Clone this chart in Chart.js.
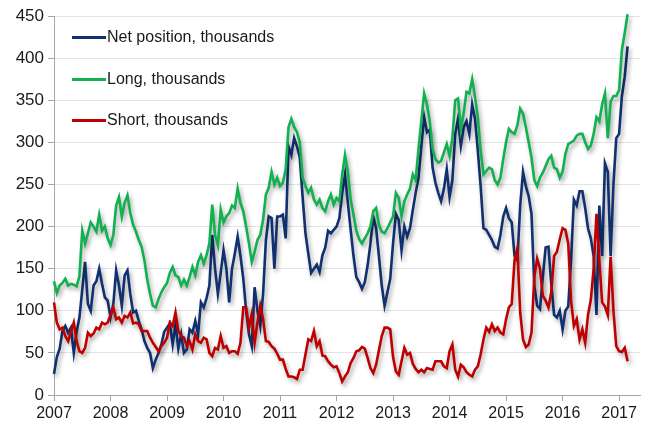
<!DOCTYPE html>
<html>
<head>
<meta charset="utf-8">
<script src="https://cdn.jsdelivr.net/npm/chart.js@4/dist/chart.umd.min.js"></script>
<style>
  html, body { margin: 0; padding: 0; background: #fff; }
  #wrap { position: relative; width: 648px; height: 429px; }
  .legend { position: absolute; left: 72px; top: 0; font: 16px "Liberation Sans", Arial, sans-serif; color: #1a1a1a; }
  .legend .item { position: absolute; left: 0; height: 20px; line-height: 20px; white-space: nowrap; }
  .legend .swatch { position: absolute; left: 0; top: 9px; width: 34px; height: 3px; }
  .legend .label { position: absolute; left: 35px; top: 0; }
</style>
</head>
<body>
<div id="wrap">
  <canvas id="cot-chart" width="648" height="429"></canvas>
  <div class="legend" id="legend"></div>
</div>
<script>
// weekly-ish readings, 20 per year starting Jan 2007
const startYear = 2007;
const step = 0.05;
const yearTicks = [2007, 2008, 2009, 2010, 2011, 2012, 2013, 2014, 2015, 2016, 2017];
const valueTicks = [0, 50, 100, 150, 200, 250, 300, 350, 400, 450];

const seriesNames = ['Net position, thousands', 'Long, thousands', 'Short, thousands'];

const net = [
  25,45,55,76,82,74,80,50,75,92,125,158,108,100,130,135,150,132,116,112,       // 2007
  92,108,148,130,106,142,148,120,98,100,88,78,64,56,50,32,42,50,60,75,          // 2008
  80,85,60,84,55,72,50,54,78,74,88,72,110,104,115,130,190,150,120,145,          // 2009
  172,150,110,150,168,188,165,138,100,72,58,128,100,82,120,184,212,210,150,212, // 2010
  212,214,186,295,285,305,295,282,235,192,168,145,150,155,146,166,175,195,192,196, // 2011
  200,210,240,262,228,196,165,140,134,126,134,154,180,212,198,165,130,106,122,138, // 2012
  180,215,208,172,200,188,198,220,240,258,295,330,312,315,270,252,240,230,245,268, // 2013
  235,255,310,328,296,318,325,310,345,328,290,248,198,196,190,184,176,174,190,212, // 2014
  222,210,205,165,160,225,265,248,236,215,130,106,102,140,175,176,132,95,92,100,   // 2015
  78,100,105,160,232,225,242,242,222,198,186,165,95,225,165,275,265,165,250,305,   // 2016
  310,355,378,414                                                                  // 2017
];

const longPos = [
  135,121,130,133,138,130,132,131,129,141,195,180,192,205,200,194,214,195,200,186,
  178,190,225,235,212,228,237,216,202,194,184,176,160,137,120,106,104,114,122,128,
  133,145,152,142,140,130,137,130,140,152,142,158,166,156,166,180,226,190,178,220,
  205,212,216,225,222,245,228,218,200,180,158,170,184,190,208,238,246,265,250,258,
  248,252,268,318,328,318,312,300,258,248,240,246,232,226,232,222,218,230,238,226,
  234,230,262,285,265,232,214,195,185,180,186,192,200,218,222,202,194,192,198,205,
  212,240,234,212,230,238,245,262,255,292,325,358,345,325,292,280,276,278,288,298,
  284,305,350,352,315,335,360,358,375,354,330,290,262,266,270,268,255,250,258,280,
  300,316,312,310,320,340,334,318,300,282,255,248,258,264,272,280,284,270,268,258,
  265,286,298,300,302,308,310,310,300,292,296,310,330,325,345,358,305,348,355,355,
  362,410,430,452
];

const shortPos = [
  110,86,78,80,70,64,75,86,64,52,50,56,74,70,73,80,78,86,84,86,
  95,104,90,92,86,94,92,98,85,86,84,76,76,76,68,62,57,52,58,62,
  68,86,82,98,76,70,68,58,64,54,72,64,62,68,66,50,46,56,54,70,
  56,58,50,52,52,49,62,104,104,80,96,62,86,106,90,64,63,58,55,49,
  42,42,31,22,22,21,19,30,30,48,66,64,76,58,64,47,46,40,36,33,
  34,26,16,22,27,38,44,52,53,57,55,44,32,26,36,53,70,80,80,78,
  45,28,24,40,56,48,50,37,31,27,30,27,32,31,30,40,40,40,34,32,
  52,60,30,22,36,33,27,24,22,30,34,48,66,80,75,84,76,80,74,72,
  90,104,108,160,174,98,66,57,60,74,140,162,150,118,112,104,122,165,170,185,
  198,196,180,112,82,90,66,78,62,95,113,150,215,160,110,105,95,164,100,58,
  52,51,56,40
];

const colors = ['#10306f', '#12b04f', '#c00000'];
const fontFamily = '"Liberation Sans", Arial, sans-serif';

function toPoints(vals) {
  return vals.map((v, i) => ({ x: startYear + i * step, y: v }));
}

// Excel-like soft shadow under each line
const lineShadow = {
  id: 'lineShadow',
  beforeDatasetDraw(chart) {
    let c = chart.ctx;
    c.save();
    c.shadowColor = 'rgba(0,0,0,0.35)';
    c.shadowBlur = 4;
    c.shadowOffsetX = 2;
    c.shadowOffsetY = 3;
  },
  afterDatasetDraw(chart) {
    chart.ctx.restore();
  }
};

function BuildLegend() {
  let el = document.getElementById('legend');
  const rowTops = [27, 69, 110];
  seriesNames.forEach((name, i) => {
    let item = document.createElement('div');
    item.className = 'item';
    item.style.top = rowTops[i] + 'px';
    item.innerHTML = `<span class="swatch" style="background:${colors[i]}"></span><span class="label">${name}</span>`;
    el.appendChild(item);
  });
}

function DrawChart() {
  let ctx = document.getElementById('cot-chart').getContext('2d');
  const allSeries = [net, longPos, shortPos];
  new Chart(ctx, {
    type: 'line',
    data: {
      datasets: allSeries.map((vals, i) => ({
        label: seriesNames[i],
        data: toPoints(vals),
        borderColor: colors[i],
        borderWidth: 2.6,
        pointRadius: 0,
        tension: 0,
        fill: false,
        clip: 4,
        order: 3 - i,
      })),
    },
    options: {
      responsive: false,
      animation: false,
      layout: { padding: { top: 16, right: 8, left: 0, bottom: 0 } },
      plugins: { legend: { display: false }, tooltip: { enabled: false } },
      scales: {
        x: {
          type: 'linear',
          min: 2007,
          max: 2017.37,
          afterBuildTicks: (s) => { s.ticks = yearTicks.map((v) => ({ value: v })); },
          afterFit: (s) => { s.height = 34; },
          ticks: {
            callback: (v) => String(v),
            autoSkip: false,
            maxRotation: 0,
            padding: 3,
            color: '#1a1a1a',
            font: { family: fontFamily, size: 16 },
          },
          grid: { drawOnChartArea: false, tickColor: '#a6a6a6', tickLength: 6 },
          border: { color: '#a6a6a6', width: 1 },
        },
        y: {
          min: 0,
          max: 450,
          afterBuildTicks: (s) => { s.ticks = valueTicks.map((v) => ({ value: v })); },
          afterFit: (s) => { s.width = 54; },
          ticks: {
            padding: 4,
            color: '#1a1a1a',
            font: { family: fontFamily, size: 17 },
          },
          grid: { color: '#e4e4e4', tickColor: '#a6a6a6', tickLength: 6 },
          border: { color: '#a6a6a6', width: 1 },
        },
      },
    },
    plugins: [lineShadow],
  });
}

BuildLegend();
DrawChart();
</script>
</body>
</html>
